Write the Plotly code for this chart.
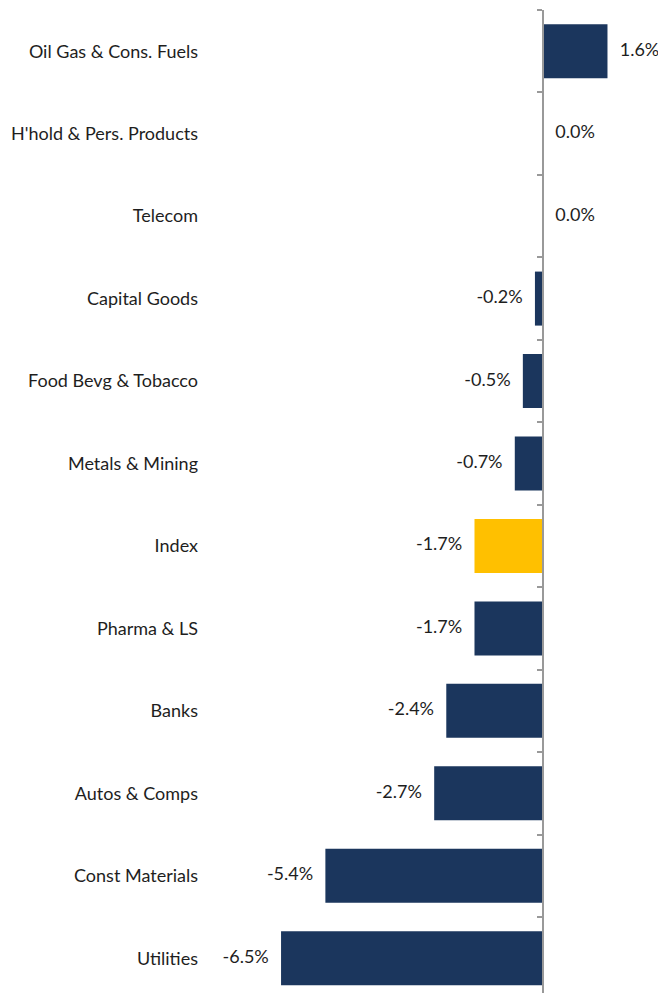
import plotly.graph_objects as go

categories = ["Oil Gas & Cons. Fuels", "H'hold & Pers. Products", "Telecom", "Capital Goods",
              "Food Bevg & Tobacco", "Metals & Mining", "Index", "Pharma & LS", "Banks",
              "Autos & Comps", "Const Materials", "Utilities"]
values = [1.6, 0.0, 0.0, -0.2, -0.5, -0.7, -1.7, -1.7, -2.4, -2.7, -5.4, -6.5]
labels = ["1.6%", "0.0%", "0.0%", "-0.2%", "-0.5%", "-0.7%", "-1.7%", "-1.7%", "-2.4%",
          "-2.7%", "-5.4%", "-6.5%"]

NAVY = "#1b365d"
GOLD = "#ffc000"
TEXT = "#1e1e1e"
colors = [GOLD if c == "Index" else NAVY for c in categories]
FONT = "Lato, sans-serif"

x_min, x_max = -8.387, 3.052
y_range = [11.422, -0.5]

fig = go.Figure()
fig.add_trace(go.Bar(
    y=categories, x=values, orientation="h",
    marker=dict(color=colors, line=dict(width=0)),
    width=0.655, hoverinfo="skip", showlegend=False,
))
fig.add_trace(go.Scatter(
    y=categories, x=values, mode="markers+text", text=labels,
    textposition=["middle right" if v >= 0 else "middle left" for v in values],
    marker=dict(size=18, opacity=0),
    textfont=dict(size=18, color=TEXT, family=FONT),
    hoverinfo="skip", showlegend=False, cliponaxis=False,
))
fig.add_trace(go.Scatter(
    x=[0], y=[0], yaxis="y2", mode="markers", marker=dict(opacity=0),
    hoverinfo="skip", showlegend=False,
))

fig.update_layout(
    width=658, height=985,
    margin=dict(l=197, r=0, t=2, b=0, autoexpand=False),
    plot_bgcolor="white", paper_bgcolor="white",
    font=dict(family=FONT, size=18, color=TEXT),
    xaxis=dict(range=[x_min, x_max], showgrid=False, zeroline=False,
               showticklabels=False, ticks="", showline=False, fixedrange=True,
               automargin=False),
    yaxis=dict(type="category", categoryorder="array", categoryarray=categories,
               range=y_range, showgrid=False, zeroline=False, showline=False,
               ticks="", tickfont=dict(size=18, color=TEXT, family=FONT),
               ticklabelstandoff=6, automargin=False),
    yaxis2=dict(overlaying="y", anchor="free", side="left",
                position=(0 - x_min) / (x_max - x_min),
                range=y_range, tickmode="array",
                tickvals=[i - 0.5 for i in range(len(categories) + 1)],
                showticklabels=False, ticks="outside", ticklen=5, tickwidth=1.5,
                tickcolor="#999999", showline=True, linecolor="#999999", linewidth=1.5,
                showgrid=False, zeroline=False, automargin=False),
)

fig.write_html("out.html")
